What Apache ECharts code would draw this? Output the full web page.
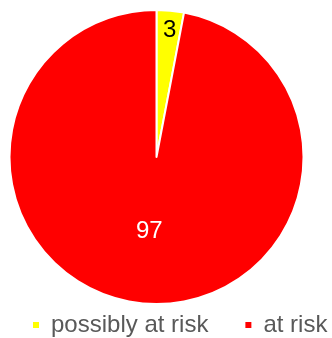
<!DOCTYPE html>
<html>
<head>
<meta charset="utf-8">
<script src="https://cdn.jsdelivr.net/npm/echarts@6/dist/echarts.min.js"></script>
<style>
  html, body { margin: 0; padding: 0; background: #ffffff; }
  #chart { width: 332px; height: 338px; }
</style>
</head>
<body>
<div id="chart"></div>
<script>
// Share of cases by risk status (percent)
var categories = ['possibly at risk', 'at risk'];
var values = [3, 97];
var sliceColors = ['#FFFF00', '#FF0000'];
var labelColors = ['#000000', '#FFFFFF'];

var chart = echarts.init(document.getElementById('chart'), null, { renderer: 'canvas' });

var data = categories.map(function (name, i) {
  return {
    name: name,
    value: values[i],
    itemStyle: { color: sliceColors[i] },
    label: { color: labelColors[i] }
  };
});

chart.setOption({
  animation: false,
  backgroundColor: '#ffffff',
  legend: {
    data: categories,
    left: 31,
    top: 313,
    padding: 0,
    icon: 'rect',
    itemWidth: 8,
    itemHeight: 8,
    itemGap: 35,
    textStyle: {
      fontFamily: 'Liberation Sans',
      fontSize: 24,
      color: '#595959',
      padding: [0, 0, 0, 6]
    }
  },
  series: [{
    type: 'pie',
    center: [156.5, 157],
    radius: [0, 147],
    startAngle: 90,
    clockwise: true,
    avoidLabelOverlap: false,
    itemStyle: { borderColor: '#ffffff', borderWidth: 2 },
    label: {
      show: true,
      position: 'inside',
      formatter: '{c}',
      fontFamily: 'Liberation Sans',
      fontSize: 24
    },
    labelLine: { show: false },
    emphasis: { disabled: true },
    labelLayout: function (p) {
      // the thin slice keeps its number near the rim
      if (p.dataIndex === 0) return { dx: 6, dy: -50 };
      return { dy: -2 };
    },
    data: data
  }]
});
</script>
</body>
</html>
